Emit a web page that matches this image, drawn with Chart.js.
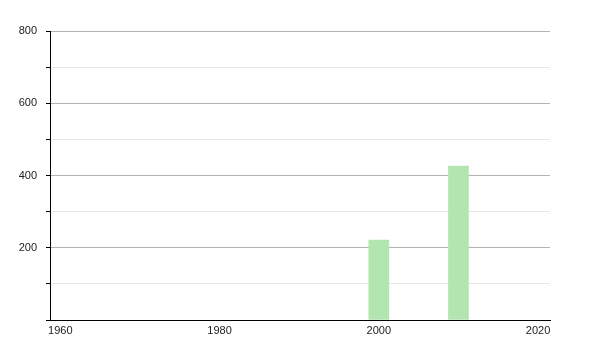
<!DOCTYPE html>
<html>
<head>
<meta charset="utf-8">
<script src="https://cdn.jsdelivr.net/npm/chart.js@4/dist/chart.umd.min.js"></script>
<style>
  html, body { margin: 0; padding: 0; background: #fff; }
  #wrap { width: 600px; height: 350px; }
</style>
</head>
<body>
<div id="wrap"><canvas id="chart"></canvas></div>
<script>
// data
const years = [2000, 2010];
const values = [221, 426];
const xTicks = [1960, 1980, 2000, 2020];
const yTicks = [0, 100, 200, 300, 400, 500, 600, 700, 800];

const ctx = document.getElementById('chart').getContext('2d');
new Chart(ctx, {
    type: 'bar',
    data: {
        datasets: [{
            data: years.map((y, i) => ({ x: y, y: values[i] })),
            backgroundColor: '#b3e5b1',
            borderWidth: 0,
            barThickness: 20
        }]
    },
    options: {
        responsive: true,
        maintainAspectRatio: false,
        animation: false,
        layout: { padding: { left: 0, right: 50, top: 31, bottom: 0 } },
        plugins: { legend: { display: false }, tooltip: { enabled: false } },
        scales: {
            x: {
                type: 'linear',
                offset: false,
                min: 1958.7,
                max: 2021.5,
                afterBuildTicks: s => { s.ticks = xTicks.map(v => ({ value: v })); },
                afterFit: s => { s.height = 30; },
                grid: { display: false, drawTicks: false },
                border: { display: true, color: '#000', width: 1 },
                ticks: {
                    padding: 4,
                    maxRotation: 0,
                    autoSkip: false,
                    color: '#222',
                    font: { family: 'Liberation Sans, Arial, sans-serif', size: 11 },
                    callback: v => String(v)
                }
            },
            y: {
                min: 0,
                max: 800,
                afterBuildTicks: s => { s.ticks = yTicks.map(v => ({ value: v })); },
                afterFit: s => { s.width = 50; },
                grid: {
                    color: c => (c.tick && c.tick.value % 200 === 0) ? '#b4b4b4' : '#e6e6e6',
                    tickColor: '#000',
                    tickLength: 4,
                    drawTicks: true
                },
                border: { display: true, color: '#000', width: 1 },
                ticks: {
                    padding: 9,
                    autoSkip: false,
                    color: '#222',
                    font: { family: 'Liberation Sans, Arial, sans-serif', size: 11 },
                    callback: v => (v !== 0 && v % 200 === 0) ? String(v) : ''
                }
            }
        }
    }
});
</script>
</body>
</html>
